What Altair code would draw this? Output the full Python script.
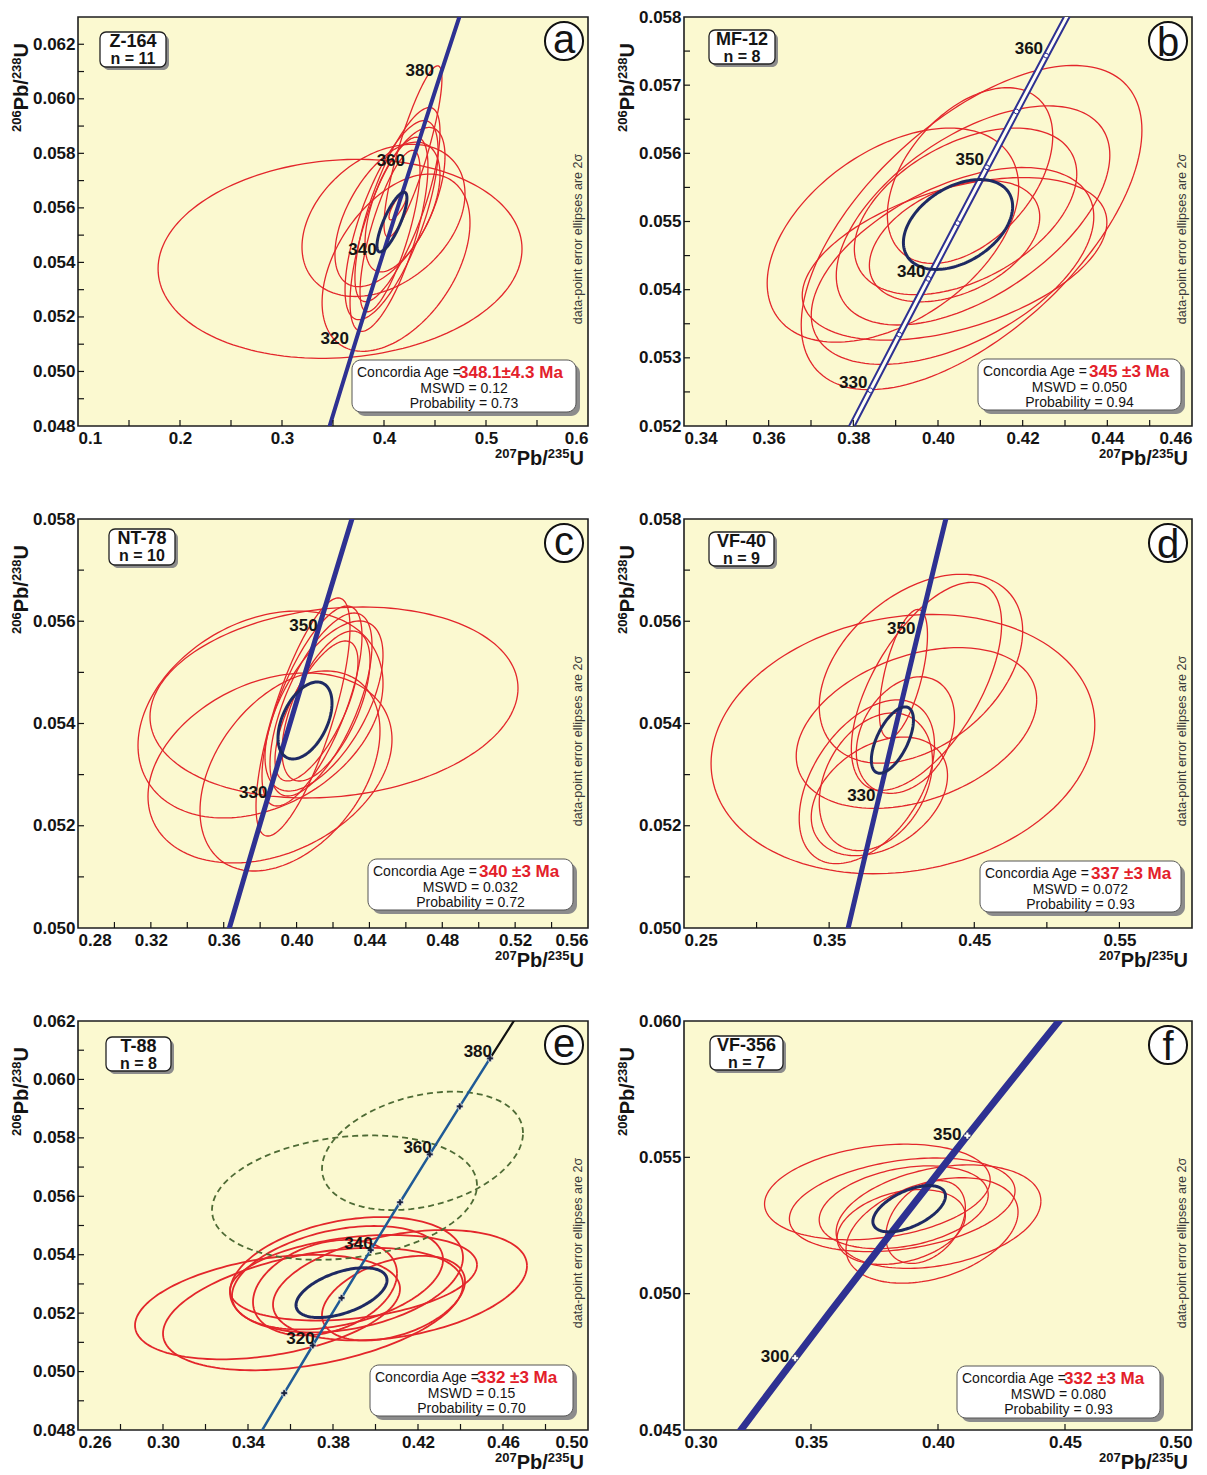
import altair as alt
import numpy as np
import pandas as pd

FONT = "Liberation Sans"
RED = "#E3262B"
NAVY = "#1E2A63"
CONC = "#2E3192"
BG = "#FBF9D0"
INK = "#141414"

# axis title pieces: (superscript, main, superscript, main)
XT_PARTS = ["207", "Pb/", "235", "U"]
YT_PARTS = ["206", "Pb/", "238", "U"]

# ---- concordia reference points (age in Ma, 207Pb/235U, 206Pb/238U) ----
CONC_AGE = [250, 260, 270, 280, 290, 300, 310, 320, 325, 330, 335, 340, 345, 350, 355, 360, 370, 380, 390, 400, 410, 420]
CONC_X = [0.27917, 0.29183, 0.30462, 0.31753, 0.33057, 0.34374, 0.35704, 0.37047, 0.37723, 0.38403, 0.39086,
          0.39773, 0.40463, 0.41156, 0.41853, 0.42553, 0.43964, 0.45389, 0.46828, 0.48281, 0.49749, 0.51231]
CONC_Y = [0.039543, 0.041157, 0.042773, 0.044392, 0.046014, 0.047637, 0.049264, 0.050893, 0.051708, 0.052524,
          0.053341, 0.054158, 0.054976, 0.055795, 0.056614, 0.057434, 0.059075, 0.060720, 0.062366, 0.064016,
          0.065667, 0.067322]

# ---- panel a : Z-164 ----
A_CX = [0.3569, 0.3995, 0.4118, 0.4284, 0.4132, 0.4074, 0.4049, 0.4059, 0.4137, 0.4034, 0.4206]
A_CY = [0.05413, 0.05554, 0.05399, 0.05807, 0.05612, 0.05555, 0.05503, 0.05515, 0.05607, 0.05576, 0.05630]
A_SX = [0.1784, 0.0799, 0.0725, 0.0284, 0.0417, 0.0456, 0.0382, 0.0294, 0.0088, 0.0515, 0.0392]
A_SY = [0.00365, 0.00279, 0.00325, 0.00314, 0.00356, 0.00365, 0.00356, 0.00296, 0.00051, 0.00265, 0.00265]
A_RHO = [0.10, 0.35, 0.45, 0.85, 0.75, 0.70, 0.70, 0.75, 0.80, 0.55, 0.60]
A_MEAN = [0.4078, 0.05548, 0.0147, 0.001095, 0.80]
A_XT = [0.1, 0.2, 0.3, 0.4, 0.5, 0.6]
A_YT = [0.048, 0.050, 0.052, 0.054, 0.056, 0.058, 0.060, 0.062]
A_LBL = [320, 340, 360, 380]

# ---- panel b : MF-12 ----
B_CX = [0.38935, 0.40793, 0.40757, 0.40828, 0.40343, 0.40651, 0.40391, 0.40391]
B_CY = [0.054800, 0.054911, 0.055674, 0.055089, 0.054348, 0.055148, 0.054452, 0.054711]
B_SX = [0.0297, 0.04024, 0.01953, 0.03231, 0.03337, 0.02627, 0.03598, 0.02012]
B_SY = [0.00157, 0.002378, 0.001289, 0.001607, 0.001444, 0.001222, 0.001193, 0.000889]
B_RHO = [0.45, 0.60, 0.45, 0.55, 0.50, 0.45, 0.45, 0.40]
B_MEAN = [0.40473, 0.054956, 0.0129, 0.000659, 0.40]
B_XT = [0.34, 0.36, 0.38, 0.40, 0.42, 0.44, 0.46]
B_YT = [0.052, 0.053, 0.054, 0.055, 0.056, 0.057, 0.058]
B_LBL = [330, 340, 350, 360]
B_MARK = [330, 335, 340, 345, 350, 355, 360]

# ---- panel c : NT-78 ----
C_CX = [0.42055, 0.38020, 0.38541, 0.39639, 0.40353, 0.40847, 0.41341, 0.41506, 0.41094, 0.41616]
C_CY = [0.054411, 0.054176, 0.053130, 0.053071, 0.054127, 0.054342, 0.054372, 0.054342, 0.054245, 0.054342]
C_SX = [0.10102, 0.06726, 0.06698, 0.04941, 0.02580, 0.02745, 0.02800, 0.03239, 0.02278, 0.02416]
C_SY = [0.001868, 0.002024, 0.001858, 0.001956, 0.002328, 0.001956, 0.001790, 0.001663, 0.001369, 0.001467]
C_RHO = [0.15, 0.30, 0.30, 0.40, 0.75, 0.70, 0.65, 0.60, 0.70, 0.60]
C_MEAN = [0.40463, 0.054059, 0.01482, 0.000753, 0.45]
C_XT = [0.28, 0.32, 0.36, 0.40, 0.44, 0.48, 0.52, 0.56]
C_YT = [0.050, 0.052, 0.054, 0.056, 0.058]
C_LBL = [330, 350]

# ---- panel d : VF-40 ----
D_CX = [0.40084, 0.41016, 0.41326, 0.41706, 0.40118, 0.40256, 0.37598, 0.38461, 0.38220]
D_CY = [0.053597, 0.053912, 0.055071, 0.054727, 0.054973, 0.053774, 0.052860, 0.052575, 0.052860]
D_SX = [0.13220, 0.08284, 0.07007, 0.05177, 0.01657, 0.03383, 0.04660, 0.04694, 0.03900]
D_SY = [0.002536, 0.001572, 0.001848, 0.002034, 0.001258, 0.001140, 0.001602, 0.001160, 0.001346]
D_RHO = [0.15, 0.35, 0.40, 0.60, 0.60, 0.30, 0.45, 0.35, 0.30]
D_MEAN = [0.39359, 0.053676, 0.0145, 0.000649, 0.60]
D_XT = [0.25, 0.35, 0.45, 0.55]
D_YT = [0.050, 0.052, 0.054, 0.056, 0.058]
D_LBL = [330, 350]

# ---- panel e : T-88 ----
E_CX = [0.34918, 0.37059, 0.41153, 0.38635, 0.38212, 0.37624, 0.40847, 0.38965]
E_CY = [0.052207, 0.052139, 0.052956, 0.053314, 0.053212, 0.052871, 0.052513, 0.053212]
E_SX = [0.06235, 0.07059, 0.05976, 0.05482, 0.04965, 0.03388, 0.03365, 0.05812]
E_SY = [0.001788, 0.002095, 0.001890, 0.001976, 0.001771, 0.001635, 0.001448, 0.001465]
E_RHO = [0.35, 0.40, 0.35, 0.30, 0.35, 0.30, 0.40, 0.30]
G_CX = [0.38541, 0.42212]
G_CY = [0.055954, 0.057555]
G_SX = [0.06235, 0.04729]
G_SY = [0.002129, 0.002027]
G_RHO = [0.20, 0.30]
E_MEAN = [0.3840, 0.052701, 0.02141, 0.000852, 0.50]
E_XT = [0.26, 0.30, 0.34, 0.38, 0.42, 0.46, 0.50]
E_YT = [0.048, 0.050, 0.052, 0.054, 0.056, 0.058, 0.060, 0.062]
E_LBL = [320, 340, 360, 380]
E_MARK = [310, 320, 330, 340, 350, 360, 370, 380]

# ---- panel f : VF-356 ----
F_CX = [0.37613, 0.40020, 0.38591, 0.38650, 0.39765, 0.38552, 0.39511]
F_CY = [0.053729, 0.052825, 0.053259, 0.053169, 0.052319, 0.052446, 0.052627]
F_SX = [0.04442, 0.04031, 0.04442, 0.03327, 0.03386, 0.02524, 0.01566]
F_SY = [0.001753, 0.001898, 0.001717, 0.001518, 0.001934, 0.001373, 0.001518]
F_RHO = [0.25, 0.30, 0.30, 0.30, 0.35, 0.30, 0.35]
F_MEAN = [0.38865, 0.053115, 0.01429, 0.000849, 0.55]
F_XT = [0.30, 0.35, 0.40, 0.45, 0.50]
F_YT = [0.045, 0.050, 0.055, 0.060]
F_LBL = [300, 350]
F_MARK = [300, 350]

CONC_DF = pd.DataFrame({"age": CONC_AGE, "x": CONC_X, "y": CONC_Y})
ONE = pd.DataFrame({"k": [0]})

# Arial/Liberation bold advance widths (em) used to place superscript pieces
ADV = {"P": 0.667, "b": 0.611, "/": 0.278, "U": 0.722}
for d in "0123456789":
    ADV[d] = 0.556


def wid(s, size):
    return sum(ADV[c] for c in s) * size


def ell_df(cx, cy, sx, sy, rho, n=160):
    t = np.linspace(0, 2 * np.pi, n + 1)
    frames = []
    for i, (x0, y0, a, b, r) in enumerate(zip(cx, cy, sx, sy, rho)):
        frames.append(pd.DataFrame({
            "id": i, "o": np.arange(n + 1),
            "x": x0 + a * np.cos(t),
            "y": y0 + b * (r * np.cos(t) + np.sqrt(1 - r * r) * np.sin(t)),
        }))
    return pd.concat(frames, ignore_index=True)


def conc_range(lo, hi):
    return CONC_DF[(CONC_DF.age >= lo) & (CONC_DF.age <= hi)]


def minor(dom, step):
    lo, hi = dom
    n = int(round((hi - lo) / step))
    return [round(lo + k * step, 6) for k in range(1, n)]


def txt(text, x, y, **kw):
    base = dict(font=FONT, color=INK)
    base.update(kw)
    return alt.Chart(ONE).mark_text(text=text, **base).encode(x=alt.value(x), y=alt.value(y))


def rect(l, r, t, b, **kw):
    return alt.Chart(ONE).mark_rect(**kw).encode(
        x=alt.value(l), x2=alt.value(r), y=alt.value(t), y2=alt.value(b))


PANELS = [
    dict(letter="a", W=510, H=409, xdom=[0.1, 0.6], ydom=[0.048, 0.063], xt=A_XT, yt=A_YT, xf=".1f", yf=".3f",
         xs=0.05, ys=0.001, ell=(A_CX, A_CY, A_SX, A_SY, A_RHO), mean=A_MEAN, conc=(290, 400), cw=4,
         lbl=A_LBL, ldx=-5, ldy=-8, sample=("Z-164", "n = 11"), sbox=(22, 88, 15, 50),
         age="348.1\u00b14.3 Ma", mswd="MSWD = 0.12", prob="Probability = 0.73", ibox=(274, 498, 343, 395), roff=107),
    dict(letter="b", W=508, H=409, xdom=[0.34, 0.46], ydom=[0.052, 0.058], xt=B_XT, yt=B_YT, xf=".2f", yf=".3f",
         xs=0.01, ys=0.0005, ell=(B_CX, B_CY, B_SX, B_SY, B_RHO), mean=B_MEAN, conc=(320, 370), cw=7,
         lbl=B_LBL, ldx=-3, ldy=-7, sample=("MF-12", "n = 8"), sbox=(25, 91, 13, 47),
         age="345 \u00b13 Ma", mswd="MSWD = 0.050", prob="Probability = 0.94", ibox=(294, 497, 342, 393), roff=111),
    dict(letter="c", W=510, H=409, xdom=[0.28, 0.56], ydom=[0.050, 0.058], xt=C_XT, yt=C_YT, xf=".2f", yf=".3f",
         xs=0.02, ys=0.001, ell=(C_CX, C_CY, C_SX, C_SY, C_RHO), mean=C_MEAN, conc=(300, 370), cw=5,
         lbl=C_LBL, ldx=0, ldy=-6, sample=("NT-78", "n = 10"), sbox=(31, 97, 10, 46),
         age="340 \u00b13 Ma", mswd="MSWD = 0.032", prob="Probability = 0.72", ibox=(290, 495, 340, 391), roff=111),
    dict(letter="d", W=508, H=409, xdom=[0.25, 0.60], ydom=[0.050, 0.058], xt=D_XT, yt=D_YT, xf=".2f", yf=".3f",
         xs=0.05, ys=0.001, ell=(D_CX, D_CY, D_SX, D_SY, D_RHO), mean=D_MEAN, conc=(300, 370), cw=5,
         lbl=D_LBL, ldx=-3, ldy=-3, sample=("VF-40", "n = 9"), sbox=(25, 90, 13, 47),
         age="337 \u00b13 Ma", mswd="MSWD = 0.072", prob="Probability = 0.93", ibox=(296, 497, 342, 393), roff=111),
    dict(letter="e", W=510, H=409, xdom=[0.26, 0.50], ydom=[0.048, 0.062], xt=E_XT, yt=E_YT, xf=".2f", yf=".3f",
         xs=0.02, ys=0.001, ell=(E_CX, E_CY, E_SX, E_SY, E_RHO), mean=E_MEAN, conc=(290, 380), cw=2.5,
         lbl=E_LBL, ldx=2, ldy=-6, sample=("T-88", "n = 8"), sbox=(28, 93, 16, 50),
         age="332 \u00b13 Ma", mswd="MSWD = 0.15", prob="Probability = 0.70", ibox=(292, 495, 344, 395), roff=107),
    dict(letter="f", W=508, H=409, xdom=[0.30, 0.50], ydom=[0.045, 0.060], xt=F_XT, yt=F_YT, xf=".2f", yf=".3f",
         xs=0.05, ys=0.005, ell=(F_CX, F_CY, F_SX, F_SY, F_RHO), mean=F_MEAN, conc=(270, 390), cw=7,
         lbl=F_LBL, ldx=-6, ldy=-1, sample=("VF-356", "n = 7"), sbox=(26, 99, 15, 49),
         age="332 \u00b13 Ma", mswd="MSWD = 0.080", prob="Probability = 0.93", ibox=(273, 476, 345, 397), roff=107),
]

MAIN, SUP = 20, 13


def x_title(W, H):
    out = []
    x = W - 4
    for i, part in reversed(list(enumerate(XT_PARTS))):
        size = SUP if i % 2 == 0 else MAIN
        y = H + (32 if i % 2 == 0 else 39)
        out.append(txt(part, x, y, fontSize=size, fontWeight="bold", align="right", baseline="alphabetic"))
        x -= wid(part, size)
    return out


def y_title():
    out = []
    total = sum(wid(p, SUP if i % 2 == 0 else MAIN) for i, p in enumerate(YT_PARTS))
    y = 26 + total
    for i, part in enumerate(YT_PARTS):
        size = SUP if i % 2 == 0 else MAIN
        x = -57 if i % 2 == 0 else -50
        out.append(txt(part, x, y, fontSize=size, fontWeight="bold", angle=270, align="left",
                       baseline="alphabetic"))
        y -= wid(part, size)
    return out


def panel(p):
    W, H = p["W"], p["H"]
    xsc = alt.Scale(domain=p["xdom"], nice=False, zero=False)
    ysc = alt.Scale(domain=p["ydom"], nice=False, zero=False)
    common = dict(ticks=False, domain=False, grid=False, labelFont=FONT, labelFontSize=17,
                  labelFontWeight="bold", labelColor=INK, labelOverlap=False, title=None)
    xax = alt.Axis(values=p["xt"], format=p["xf"], labelPadding=4, **common)
    yax = alt.Axis(values=p["yt"], format=p["yf"], labelPadding=3, **common)

    def X(f):
        return alt.X(f"{f}:Q", scale=xsc, axis=xax)

    def Y(f):
        return alt.Y(f"{f}:Q", scale=ysc, axis=yax)

    L = p["letter"]
    layers = []
    layers.append(alt.Chart(ell_df(*p["ell"])).mark_line(
        clip=True, color=RED, strokeWidth=1.8 if L == "e" else 1.3).encode(
        x=X("x"), y=Y("y"), detail="id:N", order="o:Q"))
    if L == "e":
        layers.append(alt.Chart(ell_df(G_CX, G_CY, G_SX, G_SY, G_RHO)).mark_line(
            clip=True, color="#4E6B35", strokeWidth=1.8, strokeDash=[6, 4]).encode(
            x=X("x"), y=Y("y"), detail="id:N", order="o:Q"))

    cdf = conc_range(*p["conc"])
    if L == "e":
        layers.append(alt.Chart(conc_range(380, 400)).mark_line(clip=True, color="#111", strokeWidth=2.2).encode(
            x=X("x"), y=Y("y"), order="age:Q"))
        layers.append(alt.Chart(cdf).mark_line(clip=True, color="#1F5A96", strokeWidth=p["cw"]).encode(
            x=X("x"), y=Y("y"), order="age:Q"))
    else:
        layers.append(alt.Chart(cdf).mark_line(clip=True, color=CONC, strokeWidth=p["cw"]).encode(
            x=X("x"), y=Y("y"), order="age:Q"))
    if L == "b":
        layers.append(alt.Chart(cdf).mark_line(clip=True, color="#FFFFF4", strokeWidth=3).encode(
            x=X("x"), y=Y("y"), order="age:Q"))
        layers.append(alt.Chart(CONC_DF[CONC_DF.age.isin(B_MARK)]).mark_point(
            shape="circle", size=22, filled=True, fill="#FFFFFF", stroke=CONC, strokeWidth=1, opacity=1).encode(
            x=X("x"), y=Y("y")))
    if L == "e":
        layers.append(alt.Chart(CONC_DF[CONC_DF.age.isin(E_MARK)]).mark_point(
            shape="cross", size=45, filled=True, fill="#1B2440", stroke="#FFFFFF", strokeWidth=0.6, opacity=1).encode(
            x=X("x"), y=Y("y")))
    if L == "f":
        layers.append(alt.Chart(CONC_DF[CONC_DF.age.isin(F_MARK)]).mark_point(
            shape="cross", size=45, filled=True, fill="#FFFFFF", stroke="#1B2440", strokeWidth=0.5, opacity=1).encode(
            x=X("x"), y=Y("y")))

    m = p["mean"]
    layers.append(alt.Chart(ell_df([m[0]], [m[1]], [m[2]], [m[3]], [m[4]])).mark_line(
        clip=True, color=NAVY, strokeWidth=3).encode(x=X("x"), y=Y("y"), detail="id:N", order="o:Q"))

    layers.append(alt.Chart(CONC_DF[CONC_DF.age.isin(p["lbl"])]).mark_text(
        align="right", baseline="middle", dx=p["ldx"], dy=p["ldy"], font=FONT, fontSize=17,
        fontWeight="bold", color=INK).encode(x=X("x"), y=Y("y"), text="age:N"))

    # inward ticks
    xm = sorted(set(minor(p["xdom"], p["xs"]) + [v for v in p["xt"] if p["xdom"][0] < v < p["xdom"][1]]))
    ym = sorted(set(minor(p["ydom"], p["ys"]) + [v for v in p["yt"] if p["ydom"][0] < v < p["ydom"][1]]))
    layers.append(alt.Chart(pd.DataFrame({"v": xm})).mark_rule(color=INK, strokeWidth=1.2).encode(
        x=X("v"), y=alt.value(H), y2=alt.value(H - 6)))
    layers.append(alt.Chart(pd.DataFrame({"v": ym})).mark_rule(color=INK, strokeWidth=1.2).encode(
        y=Y("v"), x=alt.value(0), x2=alt.value(6)))

    # note
    layers.append(txt("data-point error ellipses are 2\u03c3", W - 10, 222, angle=270, fontSize=12.5,
                      color="#3A3A3A", align="center", baseline="middle"))

    # info box
    l, r, t, b = p["ibox"]
    layers.append(rect(l + 4, r + 4, t + 4, b + 4, cornerRadius=9, color="#8C8C8C"))
    layers.append(rect(l, r, t, b, cornerRadius=9, fill="#FFFFFF", stroke="#555555", strokeWidth=1))
    layers.append(txt("Concordia Age =", l + 5, t + 13, fontSize=14, align="left", baseline="middle"))
    layers.append(txt(p["age"], l + p["roff"], t + 13, fontSize=17, fontWeight="bold", color="#E3202A",
                      align="left", baseline="middle"))
    layers.append(txt(p["mswd"], (l + r) / 2, t + 29, fontSize=14, align="center", baseline="middle"))
    layers.append(txt(p["prob"], (l + r) / 2, t + 44, fontSize=14, align="center", baseline="middle"))

    # sample box
    l, r, t, b = p["sbox"]
    layers.append(rect(l + 3, r + 3, t + 3, b + 3, cornerRadius=6, color="#8C8C8C"))
    layers.append(rect(l, r, t, b, cornerRadius=6, fill="#FFFFFF", stroke="#222222", strokeWidth=1.3))
    layers.append(txt(p["sample"][0], (l + r) / 2, t + 10, fontSize=18, fontWeight="bold",
                      align="center", baseline="middle"))
    layers.append(txt(p["sample"][1], (l + r) / 2, t + 27, fontSize=16, fontWeight="bold",
                      align="center", baseline="middle"))

    # panel letter
    cx, cy = W - 24, 24
    layers.append(alt.Chart(ONE).mark_circle(size=1450, color="#FFFFFF", stroke="#111111",
                                             strokeWidth=2, opacity=1).encode(
        x=alt.value(cx), y=alt.value(cy)))
    layers.append(txt(L, cx, cy + (3 if L in "bdf" else 0), fontSize=40, align="center", baseline="middle"))

    # axis titles
    layers.extend(x_title(W, H))
    layers.extend(y_title())

    return alt.layer(*layers).properties(width=W, height=H)


chart = alt.concat(*[panel(p) for p in PANELS], columns=2,
                   spacing={"row": 39, "column": 27}).properties(
    padding={"left": 2, "top": -1, "right": 5, "bottom": 5}
).configure_view(fill=BG, stroke="#1E1E1E", strokeWidth=1.6)

chart.save("out.html", embed_options={"renderer": "svg", "actions": False})
